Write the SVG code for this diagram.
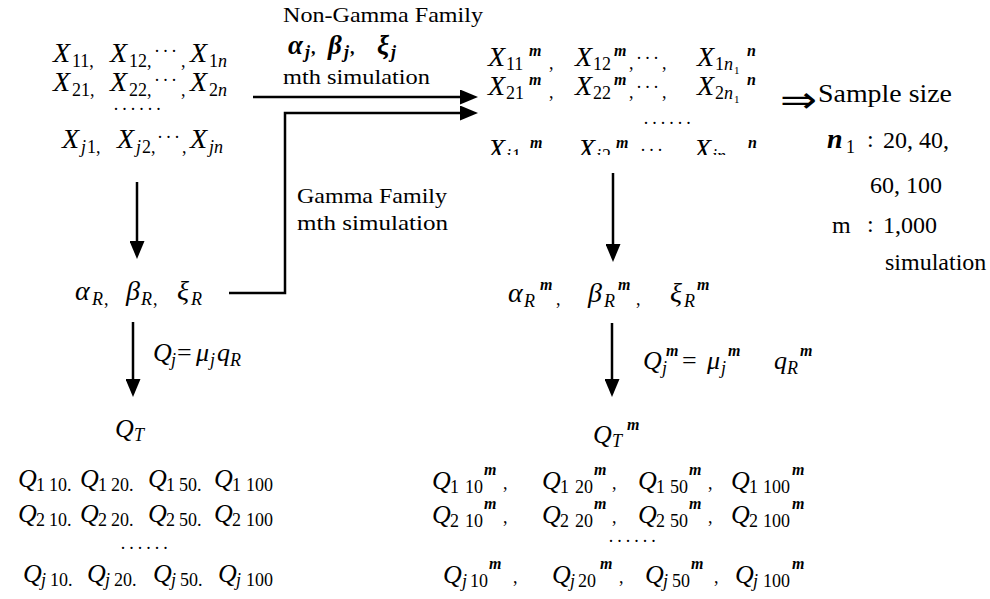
<svg xmlns="http://www.w3.org/2000/svg" width="990" height="599" viewBox="0 0 990 599">
<defs>
<style>
text{font-family:"Liberation Serif","Times New Roman",serif;fill:#000}
.m{font-style:italic;font-size:28px}
.q{font-style:italic;font-size:26px}
.sb{font-style:normal;font-size:18px}
.si{font-style:italic;font-size:18px}
.sp{font-style:italic;font-weight:bold;font-size:16px}
.dt{font-style:normal;font-size:18px;letter-spacing:2.5px}
.lb{font-size:21px}
.eq{font-style:normal;font-size:26px}
.cn{fill:none;stroke:#000;stroke-width:2.5}
</style>
<marker id="ah" markerUnits="userSpaceOnUse" markerWidth="18" markerHeight="15" refX="8" refY="7.5" orient="auto">
<path d="M0,0 L18,7.5 L0,15 z" fill="#000"/>
</marker>
<clipPath id="cut"><rect x="470" y="0" width="320" height="155"/></clipPath>
</defs>
<rect width="990" height="599" fill="#fff"/>

<g id="connectors">
<line class="cn" x1="253" y1="97" x2="468" y2="97" marker-end="url(#ah)"/>
<polyline class="cn" points="229,293 285,293 285,113 468,113" marker-end="url(#ah)"/>
<line class="cn" x1="137" y1="182" x2="137" y2="249" marker-end="url(#ah)"/>
<line class="cn" x1="133" y1="322" x2="133" y2="387" marker-end="url(#ah)"/>
<line class="cn" x1="613" y1="173" x2="613" y2="252" marker-end="url(#ah)"/>
<line class="cn" x1="612" y1="323" x2="612" y2="387" marker-end="url(#ah)"/>
<text class="lb" x="283" y="22" textLength="200" lengthAdjust="spacingAndGlyphs">Non-Gamma Family</text>
<text class="m" style="font-weight:bold;font-size:27px"><tspan x="288" y="54">α</tspan><tspan class="si" x="305" y="58">j</tspan><tspan class="sb" x="311" y="54">,</tspan><tspan x="328" y="54">β</tspan><tspan class="si" x="344" y="58">j</tspan><tspan class="sb" x="350" y="54">,</tspan><tspan x="377" y="54">ξ</tspan><tspan class="si" x="391" y="58">j</tspan></text>
<text class="lb" x="283" y="84" textLength="147" lengthAdjust="spacingAndGlyphs">mth simulation</text>
<text class="lb" x="297" y="203" textLength="150" lengthAdjust="spacingAndGlyphs">Gamma Family</text>
<text class="lb" x="297" y="230" textLength="151" lengthAdjust="spacingAndGlyphs">mth simulation</text>
<text class="q"><tspan x="153" y="361">Q</tspan><tspan class="si" x="171" y="366">j</tspan><tspan class="eq" x="177" y="361">=</tspan><tspan x="196" y="361">μ</tspan><tspan class="si" x="210" y="366">j</tspan><tspan x="217" y="361">q</tspan><tspan class="si" x="230" y="366">R</tspan></text>
<text class="q"><tspan x="643" y="369">Q</tspan><tspan class="si" x="662" y="374">j</tspan><tspan class="sp" x="666" y="356">m</tspan><tspan class="eq" x="682" y="369">=</tspan><tspan x="707" y="369">μ</tspan><tspan class="si" x="721" y="374">j</tspan><tspan class="sp" x="728" y="356">m</tspan><tspan x="774" y="369">q</tspan><tspan class="si" x="787" y="374">R</tspan><tspan class="sp" x="800" y="356">m</tspan></text>
</g>

<g id="node-observed-data">
<text class="m"><tspan x="53" y="62">X</tspan><tspan class="sb" x="72" y="67">11,</tspan><tspan x="110" y="62">X</tspan><tspan class="sb" x="129" y="67">12,</tspan><tspan class="dt" x="154" y="57">···</tspan><tspan class="sb" x="181" y="67">,</tspan><tspan x="190" y="62">X</tspan><tspan class="sb" x="209" y="67">1</tspan><tspan class="si" x="218" y="67">n</tspan></text>
<text class="m"><tspan x="53" y="91">X</tspan><tspan class="sb" x="72" y="96">21,</tspan><tspan x="110" y="91">X</tspan><tspan class="sb" x="129" y="96">22,</tspan><tspan class="dt" x="154" y="86">···</tspan><tspan class="sb" x="181" y="96">,</tspan><tspan x="190" y="91">X</tspan><tspan class="sb" x="209" y="96">2</tspan><tspan class="si" x="218" y="96">n</tspan></text>
<text class="dt" x="113" y="115">······</text>
<text class="m"><tspan x="62" y="148">X</tspan><tspan class="si" x="81" y="153">j</tspan><tspan class="sb" x="87" y="153">1,</tspan><tspan x="117" y="148">X</tspan><tspan class="si" x="136" y="153">j</tspan><tspan class="sb" x="142" y="153">2,</tspan><tspan class="dt" x="157" y="143">···</tspan><tspan class="sb" x="182" y="153">,</tspan><tspan x="190" y="148">X</tspan><tspan class="si" x="209" y="153">jn</tspan></text>
</g>

<g id="node-simulated-data">
<text class="m"><tspan x="488" y="66">X</tspan><tspan class="sb" x="506" y="70">11</tspan><tspan class="sp" x="529" y="56">m</tspan><tspan class="sb" x="549" y="69">,</tspan><tspan x="575" y="66">X</tspan><tspan class="sb" x="593" y="70">12</tspan><tspan class="sp" x="614" y="56">m</tspan><tspan class="sb" x="629" y="69">,</tspan><tspan class="dt" x="636" y="64">···</tspan><tspan class="sb" x="662" y="69">,</tspan><tspan x="697" y="66">X</tspan><tspan class="sb" x="715" y="70">1</tspan><tspan class="si" x="724" y="70">n</tspan><tspan class="sb" style="font-size:11px" x="734" y="74">1</tspan><tspan class="sp" x="747" y="56">n</tspan></text>
<text class="m"><tspan x="488" y="95">X</tspan><tspan class="sb" x="506" y="99">21</tspan><tspan class="sp" x="529" y="85">m</tspan><tspan class="sb" x="549" y="98">,</tspan><tspan x="575" y="95">X</tspan><tspan class="sb" x="593" y="99">22</tspan><tspan class="sp" x="614" y="85">m</tspan><tspan class="sb" x="629" y="98">,</tspan><tspan class="dt" x="636" y="93">···</tspan><tspan class="sb" x="662" y="98">,</tspan><tspan x="697" y="95">X</tspan><tspan class="sb" x="715" y="99">2</tspan><tspan class="si" x="724" y="99">n</tspan><tspan class="sb" style="font-size:11px" x="734" y="103">1</tspan><tspan class="sp" x="747" y="85">n</tspan></text>
<text class="dt" x="643" y="129">······</text>
<text class="m" clip-path="url(#cut)"><tspan x="488" y="158">X</tspan><tspan class="si" x="506" y="162">j</tspan><tspan class="sb" x="512" y="162">1</tspan><tspan class="sp" x="530" y="148">m</tspan><tspan class="sb" x="550" y="157">,</tspan><tspan x="578" y="158">X</tspan><tspan class="si" x="596" y="162">j</tspan><tspan class="sb" x="602" y="162">2</tspan><tspan class="sp" x="616" y="148">m</tspan><tspan class="sb" x="632" y="157">,</tspan><tspan class="dt" x="640" y="156">···</tspan><tspan class="sb" x="670" y="157">,</tspan><tspan x="694" y="158">X</tspan><tspan class="si" x="712" y="162">jn</tspan><tspan class="sb" style="font-size:11px" x="734" y="166">1</tspan><tspan class="sp" x="748" y="148">n</tspan></text>
</g>

<g id="node-sample-size">
<text style="font-family:'DejaVu Sans',sans-serif;font-size:36px" x="780" y="112" textLength="37" lengthAdjust="spacingAndGlyphs">⇒</text>
<text style="font-size:26px" x="818" y="102" textLength="134" lengthAdjust="spacingAndGlyphs">Sample size</text>
<text style="font-size:24px"><tspan class="m" style="font-weight:bold" x="827" y="148">n</tspan><tspan class="sb" x="846" y="153">1</tspan><tspan x="867" y="147">:</tspan><tspan x="883" y="148">20, 40,</tspan></text>
<text style="font-size:24px" x="870" y="193">60, 100</text>
<text style="font-size:24px"><tspan x="832" y="233">m</tspan><tspan x="867" y="232">:</tspan><tspan x="883" y="233">1,000</tspan></text>
<text style="font-size:24px" x="885" y="270">simulation</text>
</g>

<g id="node-params-R">
<text class="m"><tspan x="75" y="300">α</tspan><tspan class="si" x="92" y="305">R</tspan><tspan class="sb" x="104" y="305">,</tspan><tspan x="126" y="300">β</tspan><tspan class="si" x="141" y="305">R</tspan><tspan class="sb" x="153" y="305">,</tspan><tspan x="177" y="300">ξ</tspan><tspan class="si" x="191" y="305">R</tspan></text>
</g>

<g id="node-params-Rm">
<text class="m"><tspan x="508" y="302">α</tspan><tspan class="si" x="524" y="307">R</tspan><tspan class="sp" x="540" y="290">m</tspan><tspan class="sb" x="556" y="305">,</tspan><tspan x="588" y="302">β</tspan><tspan class="si" x="604" y="307">R</tspan><tspan class="sp" x="618" y="290">m</tspan><tspan class="sb" x="636" y="305">,</tspan><tspan x="670" y="302">ξ</tspan><tspan class="si" x="684" y="307">R</tspan><tspan class="sp" x="697" y="290">m</tspan></text>
</g>

<g id="node-QT">
<text class="q"><tspan x="115" y="437">Q</tspan><tspan class="si" x="134" y="441">T</tspan></text>
</g>

<g id="node-QTm">
<text class="q"><tspan x="593" y="443">Q</tspan><tspan class="si" x="612" y="447">T</tspan><tspan class="sp" x="627" y="430">m</tspan></text>
</g>

<g id="node-quantiles">
<text class="q"><tspan x="18" y="487">Q</tspan><tspan class="sb" x="36" y="491">1</tspan><tspan class="sb" x="49" y="491">10.</tspan><tspan x="80" y="487">Q</tspan><tspan class="sb" x="98" y="491">1</tspan><tspan class="sb" x="111" y="491">20.</tspan><tspan x="148" y="487">Q</tspan><tspan class="sb" x="166" y="491">1</tspan><tspan class="sb" x="179" y="491">50.</tspan><tspan x="214" y="487">Q</tspan><tspan class="sb" x="232" y="491">1</tspan><tspan class="sb" x="246" y="491">100</tspan></text>
<text class="q"><tspan x="18" y="522">Q</tspan><tspan class="sb" x="36" y="526">2</tspan><tspan class="sb" x="49" y="526">10.</tspan><tspan x="80" y="522">Q</tspan><tspan class="sb" x="98" y="526">2</tspan><tspan class="sb" x="111" y="526">20.</tspan><tspan x="148" y="522">Q</tspan><tspan class="sb" x="166" y="526">2</tspan><tspan class="sb" x="179" y="526">50.</tspan><tspan x="214" y="522">Q</tspan><tspan class="sb" x="232" y="526">2</tspan><tspan class="sb" x="246" y="526">100</tspan></text>
<text class="dt" x="120" y="554">······</text>
<text class="q"><tspan x="23" y="582">Q</tspan><tspan class="si" x="41" y="586">j</tspan><tspan class="sb" x="50" y="586">10.</tspan><tspan x="87" y="582">Q</tspan><tspan class="si" x="105" y="586">j</tspan><tspan class="sb" x="114" y="586">20.</tspan><tspan x="153" y="582">Q</tspan><tspan class="si" x="171" y="586">j</tspan><tspan class="sb" x="180" y="586">50.</tspan><tspan x="218" y="582">Q</tspan><tspan class="si" x="236" y="586">j</tspan><tspan class="sb" x="246" y="586">100</tspan></text>
</g>

<g id="node-quantiles-m">
<text class="q"><tspan x="432" y="489">Q</tspan><tspan class="sb" x="450" y="493">1</tspan><tspan class="sb" x="465" y="493">10</tspan><tspan class="sp" x="484" y="475">m</tspan><tspan class="sb" x="503" y="489">,</tspan><tspan x="542" y="489">Q</tspan><tspan class="sb" x="560" y="493">1</tspan><tspan class="sb" x="575" y="493">20</tspan><tspan class="sp" x="594" y="475">m</tspan><tspan class="sb" x="612" y="489">,</tspan><tspan x="638" y="489">Q</tspan><tspan class="sb" x="656" y="493">1</tspan><tspan class="sb" x="670" y="493">50</tspan><tspan class="sp" x="689" y="475">m</tspan><tspan class="sb" x="708" y="489">,</tspan><tspan x="731" y="489">Q</tspan><tspan class="sb" x="749" y="493">1</tspan><tspan class="sb" x="763" y="493">100</tspan><tspan class="sp" x="792" y="475">m</tspan></text>
<text class="q"><tspan x="432" y="523">Q</tspan><tspan class="sb" x="450" y="527">2</tspan><tspan class="sb" x="465" y="527">10</tspan><tspan class="sp" x="484" y="509">m</tspan><tspan class="sb" x="503" y="523">,</tspan><tspan x="542" y="523">Q</tspan><tspan class="sb" x="560" y="527">2</tspan><tspan class="sb" x="575" y="527">20</tspan><tspan class="sp" x="594" y="509">m</tspan><tspan class="sb" x="612" y="523">,</tspan><tspan x="638" y="523">Q</tspan><tspan class="sb" x="656" y="527">2</tspan><tspan class="sb" x="670" y="527">50</tspan><tspan class="sp" x="689" y="509">m</tspan><tspan class="sb" x="708" y="523">,</tspan><tspan x="731" y="523">Q</tspan><tspan class="sb" x="749" y="527">2</tspan><tspan class="sb" x="763" y="527">100</tspan><tspan class="sp" x="792" y="509">m</tspan></text>
<text class="dt" x="608" y="547">······</text>
<text class="q"><tspan x="443" y="583">Q</tspan><tspan class="si" x="462" y="587">j</tspan><tspan class="sb" x="470" y="587">10</tspan><tspan class="sp" x="489" y="569">m</tspan><tspan class="sb" x="513" y="583">,</tspan><tspan x="552" y="583">Q</tspan><tspan class="si" x="570" y="587">j</tspan><tspan class="sb" x="578" y="587">20</tspan><tspan class="sp" x="600" y="569">m</tspan><tspan class="sb" x="619" y="583">,</tspan><tspan x="645" y="583">Q</tspan><tspan class="si" x="663" y="587">j</tspan><tspan class="sb" x="672" y="587">50</tspan><tspan class="sp" x="691" y="569">m</tspan><tspan class="sb" x="714" y="583">,</tspan><tspan x="735" y="583">Q</tspan><tspan class="si" x="753" y="587">j</tspan><tspan class="sb" x="763" y="587">100</tspan><tspan class="sp" x="792" y="569">m</tspan></text>
</g>
</svg>
